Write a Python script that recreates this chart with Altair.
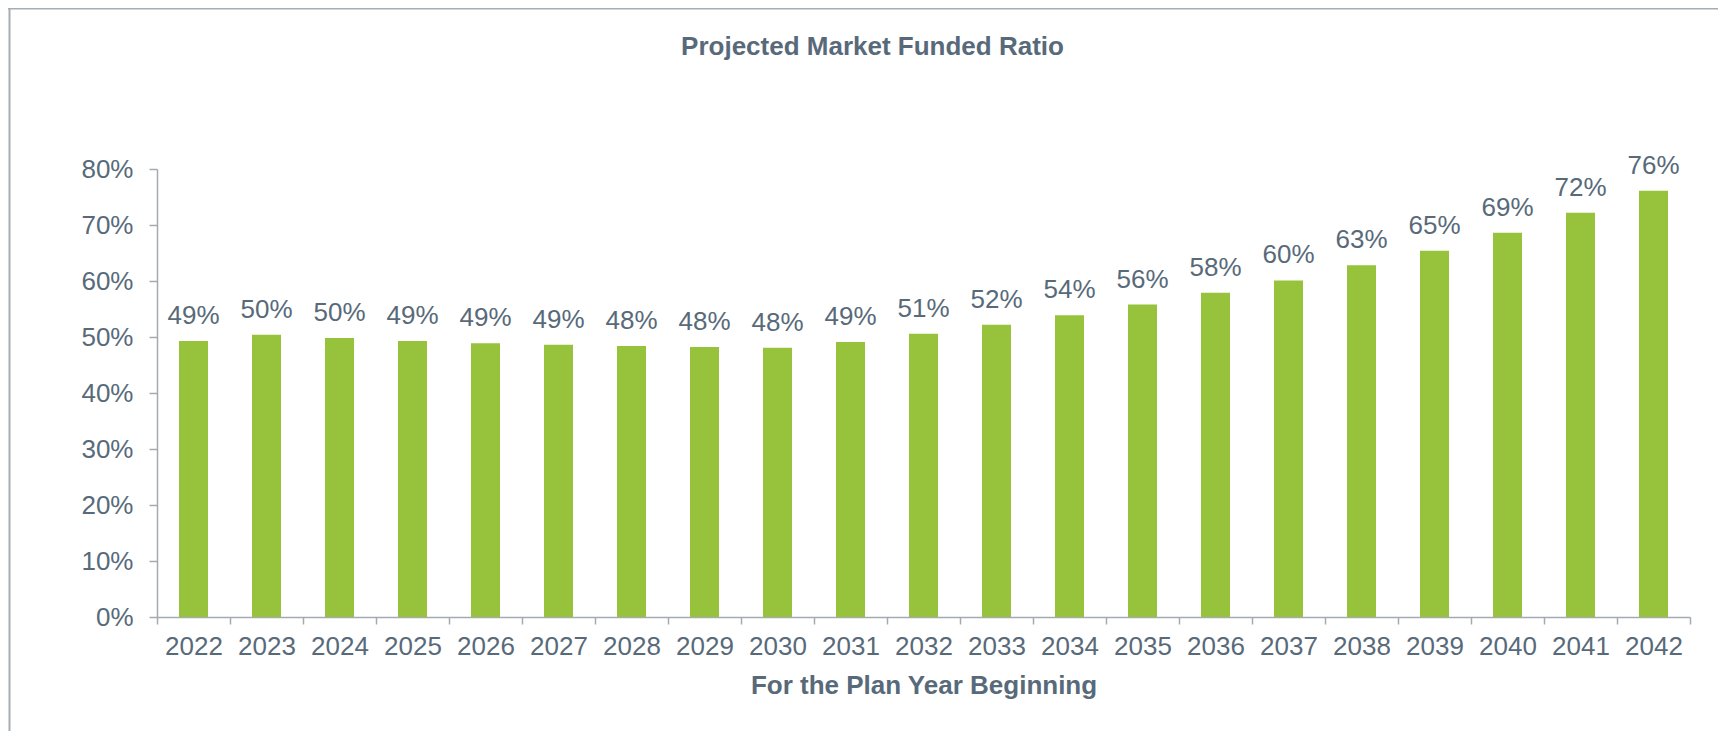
import altair as alt
import pandas as pd

years = [str(y) for y in range(2022, 2043)]
ratios = [0.493, 0.504, 0.498, 0.493, 0.489, 0.486, 0.484, 0.482, 0.481, 0.491,
          0.506, 0.522, 0.539, 0.558, 0.579, 0.601, 0.628, 0.654, 0.686, 0.722, 0.761]
y_ticks = [0, 0.1, 0.2, 0.3, 0.4, 0.5, 0.6, 0.7, 0.8]

TEXT = "#586a7a"
AXIS = "#a3aab1"
GREEN = "#96c33b"
FONT = "Liberation Sans"

df = pd.DataFrame({"year": years, "ratio": ratios})

W, H = 1533, 448

base = alt.Chart(df).encode(
    x=alt.X(
        "year:N",
        sort=years,
        scale=alt.Scale(paddingInner=0, paddingOuter=0),
        axis=alt.Axis(
            title="For the Plan Year Beginning",
            titleFont=FONT, titleFontSize=26, titleFontWeight="bold", titleColor=TEXT,
            titlePadding=13,
            labelFont=FONT, labelFontSize=26, labelColor=TEXT, labelAngle=0,
            labelPadding=9,
            tickBand="extent", tickColor=AXIS, tickSize=7, tickWidth=1.5,
            domainColor=AXIS, domainWidth=1.5,
        ),
    ),
    y=alt.Y(
        "ratio:Q",
        scale=alt.Scale(domain=[0, 0.8], nice=False),
        axis=alt.Axis(
            title=None, values=y_ticks, format=".0%",
            labelFont=FONT, labelFontSize=26, labelColor=TEXT, labelPadding=16,
            tickColor=AXIS, tickSize=8, tickWidth=1.5,
            domainColor=AXIS, domainWidth=1.5, grid=False,
        ),
    ),
)

bars = base.mark_bar(color=GREEN, size=29)
labels = base.mark_text(
    font=FONT, fontSize=26, color=TEXT, baseline="alphabetic", dy=-17
).encode(text=alt.Text("ratio:Q", format=".0%"))

one = pd.DataFrame({"a": [0]})
border_left = alt.Chart(one).mark_rule(color="#a6adb4", strokeWidth=2).encode(
    x=alt.value(-147.5), y=alt.value(-161), y2=alt.value(H + 130)
)
border_top = alt.Chart(one).mark_rule(color="#a6adb4", strokeWidth=2).encode(
    x=alt.value(-149), x2=alt.value(W + 40), y=alt.value(-160.5)
)

chart = alt.layer(border_left, border_top, bars, labels).properties(
    width=W, height=H,
    title=alt.TitleParams(
        "Projected Market Funded Ratio",
        font=FONT, fontSize=26, fontWeight="bold", color=TEXT,
        anchor="middle", frame="group", dx=-51, dy=53, offset=0,
    ),
    autosize=alt.AutoSizeParams(type="none"),
    padding={"left": 149, "top": 161, "right": 28, "bottom": 114},
).configure(background="white").configure_view(strokeWidth=0, stroke="transparent")

chart.save("out.html", embed_options={"renderer": "svg", "actions": False})
